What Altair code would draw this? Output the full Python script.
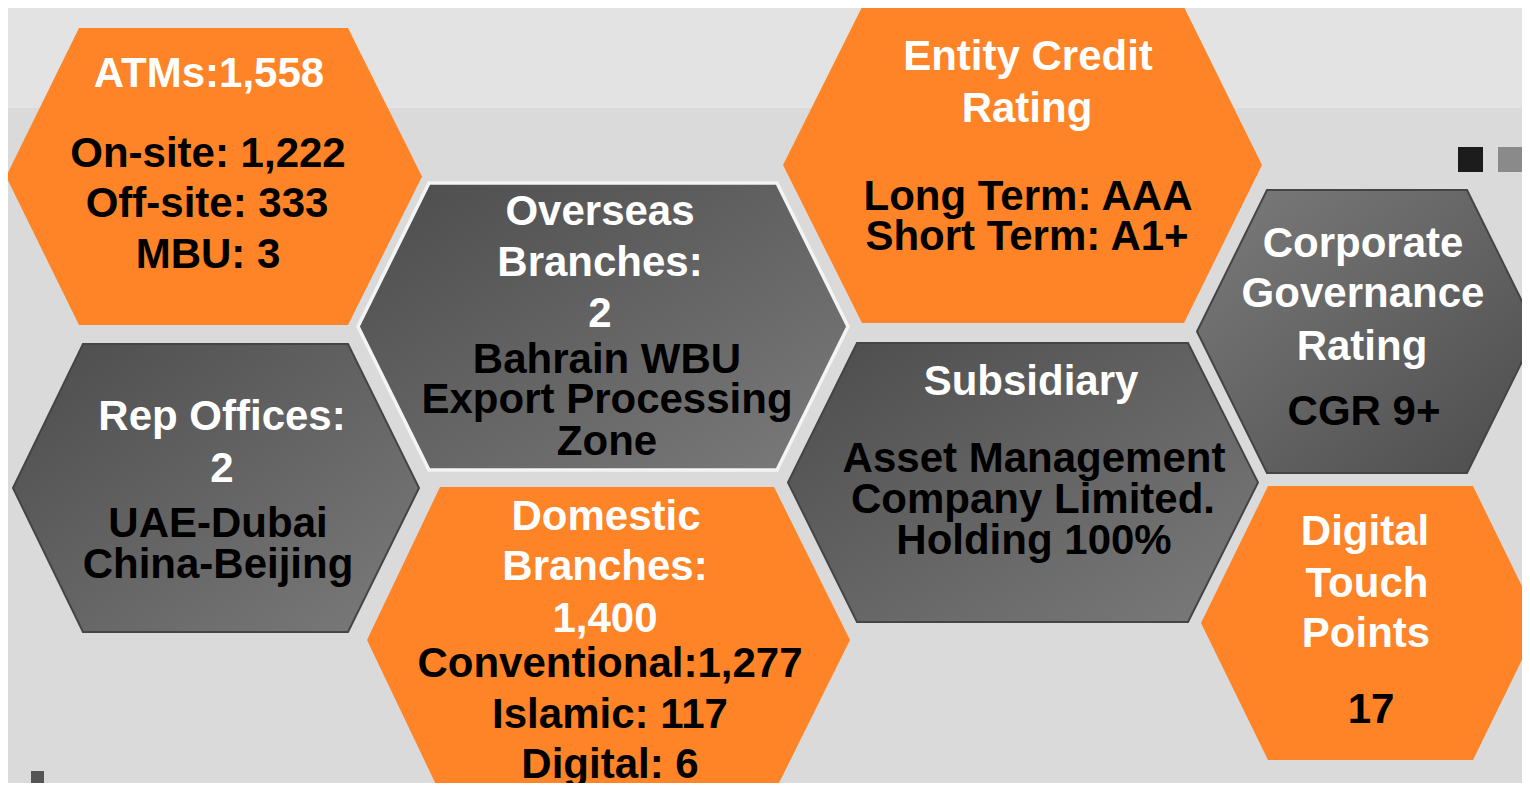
import altair as alt

# ---------------- data ----------------
hex_name = ["ATMs", "Overseas", "Entity", "Corporate", "Rep", "Domestic", "Subsidiary", "Digital"]
hex_kind = ["orange", "gray", "orange", "grayrev", "gray", "orange", "gray", "orange"]
x_left = [6, 358, 783, 1197, 13, 367, 788, 1201]
x_in_l = [79, 429, 862, 1267, 83, 440, 857, 1268]
x_in_r = [348, 777, 1184, 1467, 348, 774, 1188, 1473]
x_right = [422, 848, 1262, 1537, 419, 850, 1258, 1540]
y_top = [28, 183, 7, 190, 344, 487, 343, 486]
y_bot = [325, 470, 323, 473, 632, 793, 622, 760]
hex_stroke = ["none", "#f4f4f4", "none", "#454545", "#454545", "none", "#454545", "none"]
hex_sw = [0, 3.5, 0, 2, 2, 0, 2, 0]

label_text = [
    "ATMs:1,558", "On-site: 1,222", "Off-site: 333", "MBU: 3",
    "Overseas", "Branches:", "2", "Bahrain WBU", "Export Processing", "Zone",
    "Entity Credit", "Rating", "Long Term: AAA", "Short Term: A1+",
    "Corporate", "Governance", "Rating", "CGR 9+",
    "Rep Offices:", "2", "UAE-Dubai", "China-Beijing",
    "Domestic", "Branches:", "1,400", "Conventional:1,277", "Islamic: 117", "Digital: 6",
    "Subsidiary", "Asset Management", "Company Limited.", "Holding 100%",
    "Digital", "Touch", "Points", "17",
]
label_x = [
    209, 208, 207, 208,
    600, 600, 600, 607, 607, 607,
    1028, 1027, 1028, 1027,
    1363, 1363, 1362, 1364,
    222, 222, 218, 218,
    606, 605, 605, 610, 610, 610,
    1031, 1034, 1033, 1034,
    1365, 1367, 1366, 1371,
]
label_y = [
    87, 167, 217, 268,
    225, 276, 327, 373, 413, 455,
    70, 122, 210, 250,
    257, 307, 360, 425,
    430, 482, 537, 578,
    530, 580, 632, 677, 728, 778,
    395, 472, 513, 554,
    545, 597, 647, 723,
]
label_color = [
    "white", "black", "black", "black",
    "white", "white", "white", "black", "black", "black",
    "white", "white", "black", "black",
    "white", "white", "white", "black",
    "white", "white", "black", "black",
    "white", "white", "white", "black", "black", "black",
    "white", "black", "black", "black",
    "white", "white", "white", "black",
]

band_x0 = [0, 0]
band_x1 = [1530, 1530]
band_y0 = [0, 108]
band_y1 = [108, 800]
band_color = ["#e3e3e3", "#dadada"]

sq_x0 = [1458, 1498, 31, 0]
sq_x1 = [1483, 1523, 44, 3]
sq_y0 = [147, 147, 771, 771]
sq_y1 = [172, 172, 784, 784]
sq_color = ["#1c1c1c", "#8a8a8a", "#555555", "#555555"]


# ---------------- geometry helpers ----------------
def rect(x0, y0, x1, y1):
    return [[x0, y0], [x1, y0], [x1, y1], [x0, y1], [x0, y0]]


def feature(ring, **props):
    return {"type": "Feature", "geometry": {"type": "Polygon", "coordinates": [ring]},
            "properties": props}


def geo_data(features):
    return alt.InlineData(values={"type": "FeatureCollection", "features": features},
                          format=alt.DataFormat(property="features", type="json"))


def hex_ring(i):
    ym = (y_top[i] + y_bot[i]) / 2
    return [[x_left[i], ym], [x_in_l[i], y_top[i]], [x_in_r[i], y_top[i]],
            [x_right[i], ym], [x_in_r[i], y_bot[i]], [x_in_l[i], y_bot[i]], [x_left[i], ym]]


PROJ = dict(type="identity", scale=1, translate=[-8, -8])

band_feats = [feature(rect(band_x0[i], band_y0[i], band_x1[i], band_y1[i]), color=band_color[i])
              for i in range(len(band_color))]
bg = alt.Chart(geo_data(band_feats)).mark_geoshape(strokeWidth=0).encode(
    fill=alt.Color("properties.color:N", scale=None)
).project(**PROJ)


def hex_layer(kind, grad):
    feats = [feature(hex_ring(i), name=hex_name[i], stroke=hex_stroke[i], sw=hex_sw[i])
             for i in range(len(hex_name)) if hex_kind[i] == kind]
    return alt.Chart(geo_data(feats)).mark_geoshape(fill=grad).encode(
        stroke=alt.Color("properties.stroke:N", scale=None),
        strokeWidth=alt.StrokeWidth("properties.sw:Q", scale=None),
    ).project(**PROJ)


g_gray = alt.Gradient(gradient="linear", x1=0, y1=0, x2=1, y2=1,
                      stops=[alt.GradientStop(color="#4c4c4c", offset=0),
                             alt.GradientStop(color="#7b7b7b", offset=1)])
g_grayrev = alt.Gradient(gradient="linear", x1=0, y1=0, x2=1, y2=1,
                         stops=[alt.GradientStop(color="#7b7b7b", offset=0),
                                alt.GradientStop(color="#4c4c4c", offset=1)])

orange = hex_layer("orange", "#fe8427")
gray = hex_layer("gray", g_gray)
grayrev = hex_layer("grayrev", g_grayrev)

sq_feats = [feature(rect(sq_x0[i], sq_y0[i], sq_x1[i], sq_y1[i]), color=sq_color[i])
            for i in range(len(sq_color))]
squares = alt.Chart(geo_data(sq_feats)).mark_geoshape(strokeWidth=0).encode(
    fill=alt.Color("properties.color:N", scale=None)
).project(**PROJ)

labels = alt.Chart(alt.Data(values=[
    {"t": label_text[i], "x": label_x[i], "y": label_y[i], "c": label_color[i]}
    for i in range(len(label_text))
])).mark_text(font="Liberation Sans", fontWeight="bold", fontSize=42,
              align="center", baseline="alphabetic").encode(
    longitude="x:Q", latitude="y:Q", text="t:N",
    color=alt.Color("c:N", scale=None),
).project(**PROJ)

chart = alt.layer(bg, orange, gray, grayrev, squares, labels).properties(
    width=1514, height=775, padding=0, autosize="none", background="#dadada"
).configure_view(stroke=None)

chart.save("out.html", embed_options={"renderer": "svg", "actions": False})
